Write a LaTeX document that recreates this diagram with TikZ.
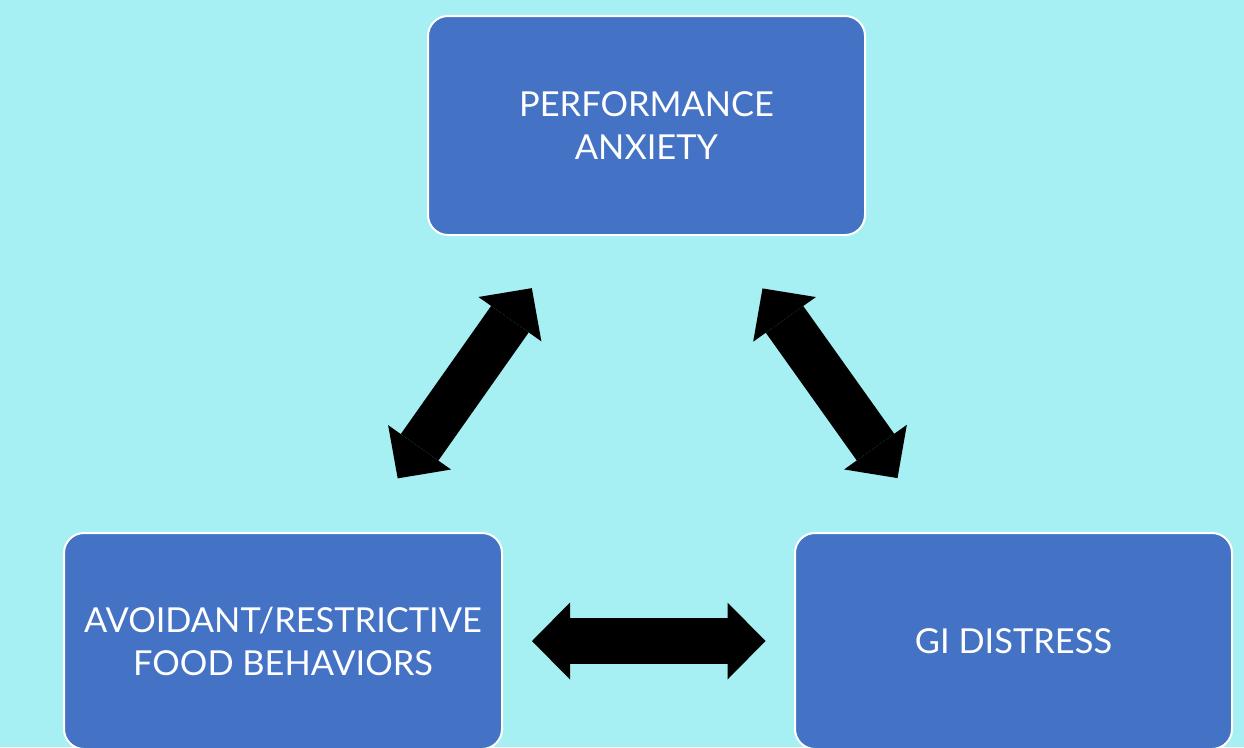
\documentclass[tikz,border=0pt]{standalone}
\usepackage{fontspec}
\setmainfont{Lato}
\usetikzlibrary{arrows.meta}
\definecolor{bgcyan}{HTML}{A6F0F3}
\definecolor{boxblue}{HTML}{4472C4}
\begin{document}
\begin{tikzpicture}[x=1pt,y=-1pt,
  box/.style={draw=white, line width=2pt, fill=boxblue, rounded corners=20pt,
    text=white, align=center, inner sep=0pt, font=\fontsize{34.4}{43}\selectfont},
  bigarrow/.style={line width=46pt, black,
    {Triangle[length=38pt,width=77pt,line width=0pt]}-{Triangle[length=38pt,width=77pt,line width=0pt]}}]
\fill[bgcyan] (0,0) rectangle (1244,747);
\useasboundingbox (0,0) rectangle (1244,747);
\clip (0,0) rectangle (1244,747);
\node[box, minimum width=437pt, minimum height=219pt] (perf) at (646.5,125.5) {PERFORMANCE\\ANXIETY};
\node[box, minimum width=438pt, minimum height=216pt] (food) at (283,641) {AVOIDANT/RESTRICTIVE\\FOOD BEHAVIORS};
\node[box, minimum width=437pt, minimum height=216pt] (gi) at (1013.5,641) {GI DISTRESS};
\draw[bigarrow, shorten <=199pt, shorten >=199pt] (perf.center) -- (food.center);
\draw[bigarrow, shorten <=200pt, shorten >=200pt] (perf.center) -- (gi.center);
\draw[bigarrow, shorten <=249pt, shorten >=248pt] (food.center) -- (gi.center);
\end{tikzpicture}
\end{document}
